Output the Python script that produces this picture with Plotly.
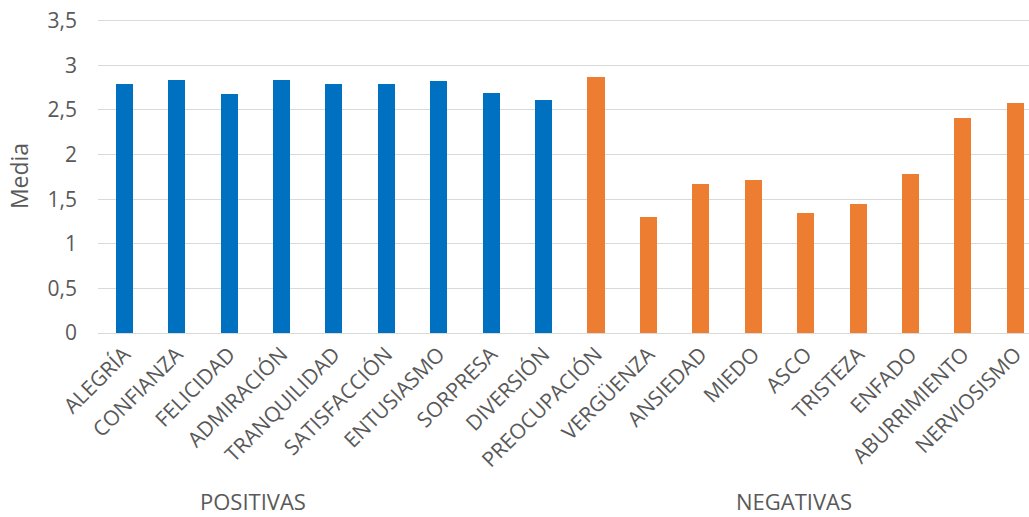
import plotly.graph_objects as go

categories = ["ALEGRÍA", "CONFIANZA", "FELICIDAD", "ADMIRACIÓN", "TRANQUILIDAD",
              "SATISFACCIÓN", "ENTUSIASMO", "SORPRESA", "DIVERSIÓN", "PREOCUPACIÓN",
              "VERGÜENZA", "ANSIEDAD", "MIEDO", "ASCO", "TRISTEZA", "ENFADO",
              "ABURRIMIENTO", "NERVIOSISMO"]
values = [2.79, 2.84, 2.68, 2.84, 2.79, 2.79, 2.83, 2.69, 2.61, 2.87,
          1.30, 1.67, 1.72, 1.35, 1.45, 1.78, 2.41, 2.58]
groups = ["POSITIVAS"] * 9 + ["NEGATIVAS"] * 9
group_colors = {"POSITIVAS": "#0070C0", "NEGATIVAS": "#ED7D31"}
group_label_pos = {"POSITIVAS": 2.46, "NEGATIVAS": 12.78}
y_ticks = [0, 0.5, 1, 1.5, 2, 2.5, 3, 3.5]

FONT = "Open Sans"
GREY = "#595959"

fig = go.Figure()
fig.add_trace(go.Bar(
    x=list(range(len(categories))),
    y=values,
    width=0.325,
    marker=dict(color=[group_colors[g] for g in groups], line=dict(width=0)),
    showlegend=False,
))

for g, xpos in group_label_pos.items():
    fig.add_annotation(x=xpos, xref="x", y=-0.535, yref="paper", text=g,
                       showarrow=False, font=dict(family=FONT, size=22, color=GREY),
                       xanchor="center", yanchor="middle")

fig.update_layout(
    width=1029, height=517,
    margin=dict(l=98, r=0, t=19, b=184),
    plot_bgcolor="white", paper_bgcolor="white",
    separators=",.",
    bargap=0,
    font=dict(family=FONT, color=GREY),
    xaxis=dict(
        tickmode="array",
        tickvals=list(range(len(categories))),
        ticktext=categories,
        tickangle=-45,
        range=[-0.5, 17.26],
        showgrid=False, zeroline=False, showline=False,
        ticks="",
        tickfont=dict(family=FONT, size=21, color=GREY),
        ticklabelstandoff=4,
        automargin=False,
    ),
    yaxis=dict(
        range=[0, 3.52],
        tickmode="array",
        tickvals=y_ticks,
        ticktext=[f"{v:g}".replace(".", ",") for v in y_ticks],
        showgrid=True, gridcolor="#D9D9D9", gridwidth=1,
        zeroline=True, zerolinecolor="#D9D9D9", zerolinewidth=1,
        showline=False, ticks="",
        tickfont=dict(family=FONT, size=21, color=GREY),
        ticklabelstandoff=20,
        ticklabeloverflow="allow",
        automargin=False,
        title=dict(text="Media", font=dict(family=FONT, size=23, color=GREY), standoff=12),
    ),
)

fig.write_html("out.html", config={"displayModeBar": False},
               post_script="document.body.style.margin='0';")
